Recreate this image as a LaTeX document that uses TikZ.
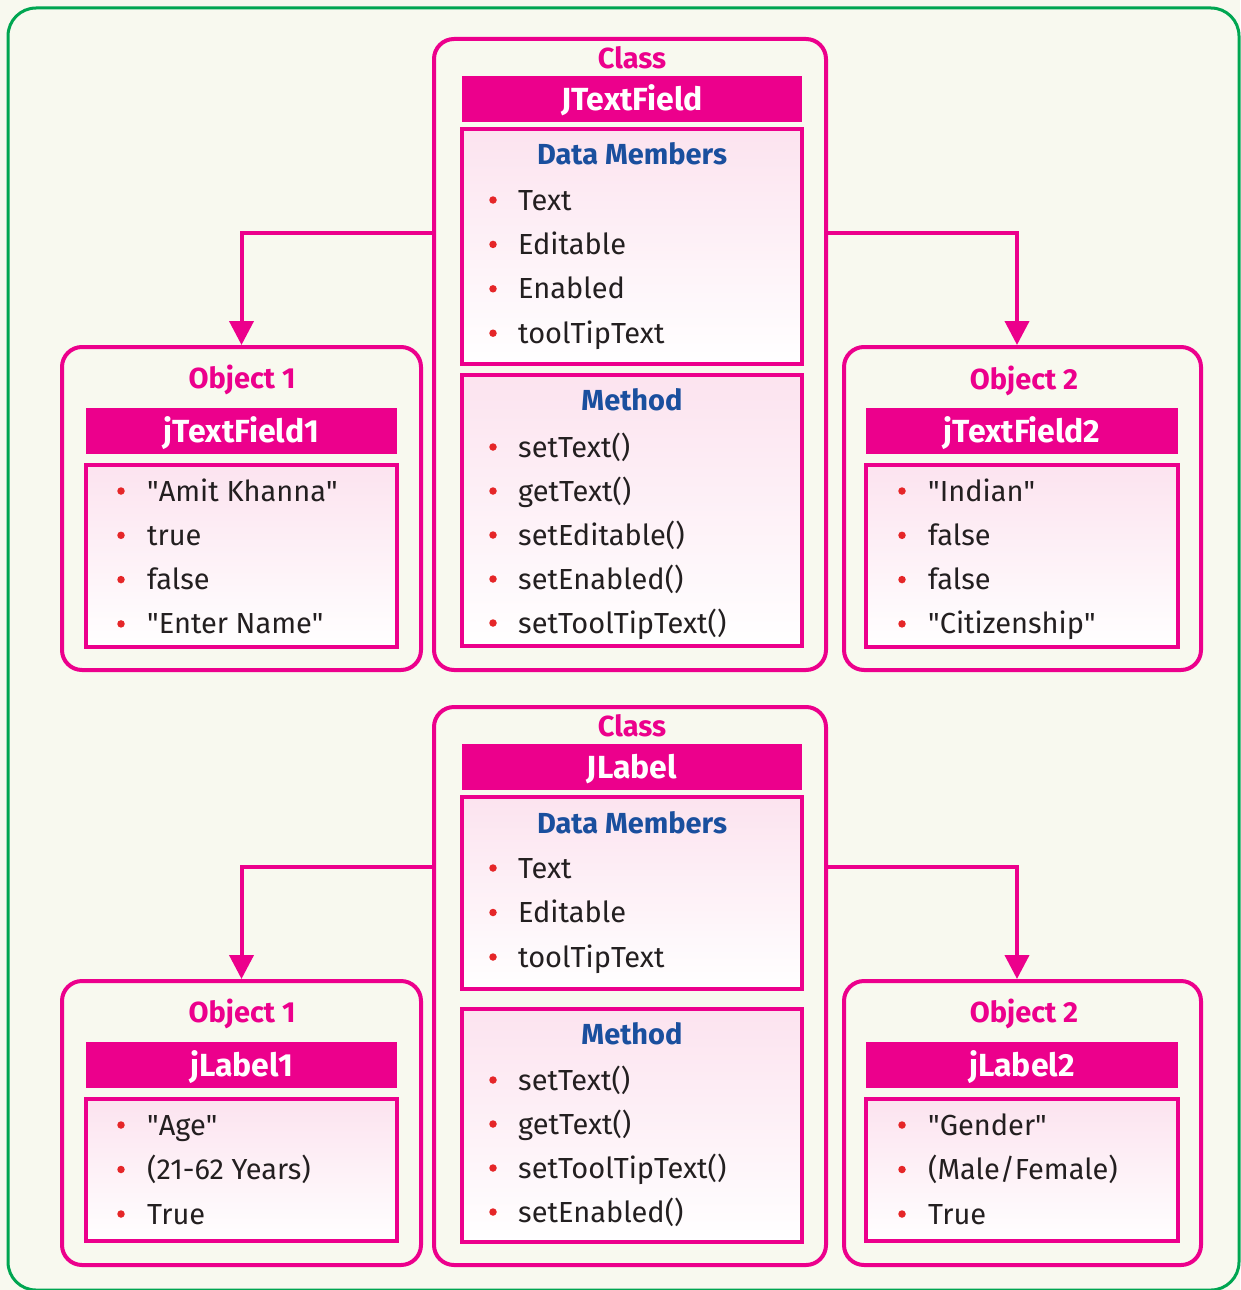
\documentclass[tikz,border=0pt]{standalone}
\usepackage{fontspec}
\setmainfont{Fira Sans}
\usetikzlibrary{arrows.meta, positioning}

\definecolor{mag}{HTML}{EC008C}
\definecolor{navy}{HTML}{1A4F9E}
\definecolor{dotred}{HTML}{E52628}
\definecolor{ink}{HTML}{231F20}
\definecolor{framegreen}{HTML}{00A651}
\definecolor{cream}{HTML}{F8F9EF}
\definecolor{pinktop}{HTML}{FCE3EF}

\newcommand{\qt}[1]{\textquotedbl #1\textquotedbl}

\begin{document}
\begin{tikzpicture}[x=1pt, y=-1pt,
  outerbox/.style={draw=mag, line width=4pt, rounded corners=20pt, inner sep=0pt},
  headbar/.style={fill=mag, text=white, inner sep=0pt, minimum height=46pt,
    text height=22pt, text depth=0pt, font=\fontsize{32}{34}\selectfont\bfseries},
  listbox/.style={draw=mag, line width=3.5pt, top color=pinktop, bottom color=white,
    inner sep=0pt},
  boxtitle/.style={anchor=base, text=mag, inner sep=0pt, font=\fontsize{29}{32}\selectfont\bfseries},
  sectitle/.style={anchor=base, text=navy, inner sep=0pt, font=\fontsize{29}{32}\selectfont\bfseries},
  entry/.style={anchor=base west, text=ink, inner sep=0pt, font=\fontsize{29}{32}\selectfont},
  dot/.style={circle, fill=dotred, inner sep=0pt, minimum size=7.5pt},
  arr/.style={-{Triangle[length=24pt, width=24pt]}, draw=mag, line width=4pt}
]
  \useasboundingbox (0,0) rectangle (1240,1290);
  \fill[cream] (0,0) rectangle (1240,1290);
  \draw[framegreen, line width=3pt, rounded corners=28pt] (8,8) rectangle (1239,1290);

  % ---- class JTextField ----
  \node[outerbox, minimum width=392pt, minimum height=631pt] (cls1) at (630,354.5) {};
  \node[boxtitle] (cls1t) at (632,68.5) {Class};
  \node[headbar, minimum width=340pt] (cls1h) at (632,99) {JTextField};
  \node[listbox, minimum width=340pt, minimum height=235pt] (dm1) at (632,246.5) {};
  \node[sectitle] (dm1t) at (632,164) {Data Members};
  \foreach \t [count=\i] in {Text, Editable, Enabled, toolTipText}{
    \node[dot] (dm1d\i) at (493,200+44.4*\i-44.4) {};
    \node[entry] (dm1e\i) at (518,210+44.4*\i-44.4) {\t};
  }
  \node[listbox, minimum width=340pt, minimum height=271pt] (me1) at (632,510.5) {};
  \node[sectitle] (me1t) at (632,410) {Method};
  \foreach \t [count=\i] in {setText(), getText(), setEditable(), setEnabled(), setToolTipText()}{
    \node[dot] (me1d\i) at (493,447+44*\i-44) {};
    \node[entry] (me1e\i) at (518,457+44*\i-44) {\t};
  }

  % ---- objects of JTextField ----
  \node[outerbox, minimum width=359pt, minimum height=323pt] (ob1) at (241.5,508.5) {};
  \node[boxtitle] (ob1t) at (242,388) {Object 1};
  \node[headbar, minimum width=311pt] (ob1h) at (241.5,431) {jTextField1};
  \node[listbox, minimum width=311pt, minimum height=182pt] (ob1v) at (241.5,556) {};
  \foreach \t [count=\i] in {{\qt{Amit Khanna}}, true, false, {\qt{Enter Name}}}{
    \node[dot] (ob1d\i) at (121,491+44.3*\i-44.3) {};
    \node[entry] (ob1e\i) at (147,501+44.3*\i-44.3) {\t};
  }

  \node[outerbox, minimum width=357pt, minimum height=323pt] (ob2) at (1022.5,508.5) {};
  \node[boxtitle] (ob2t) at (1024,389) {Object 2};
  \node[headbar, minimum width=312pt] (ob2h) at (1022,431) {jTextField2};
  \node[listbox, minimum width=312pt, minimum height=182pt] (ob2v) at (1022,556) {};
  \foreach \t [count=\i] in {{\qt{Indian}}, false, false, {\qt{Citizenship}}}{
    \node[dot] (ob2d\i) at (902,491+44.3*\i-44.3) {};
    \node[entry] (ob2e\i) at (928,501+44.3*\i-44.3) {\t};
  }

  \coordinate (cls1l) at (434,233);
  \coordinate (cls1r) at (826,233);
  \draw[arr] (cls1l) -| (ob1.north);
  \draw[arr] (cls1r) -| ([xshift=-5.5pt]ob2.north);

  % ---- class JLabel ----
  \node[outerbox, minimum width=392pt, minimum height=558pt] (cls2) at (630,986) {};
  \node[boxtitle] (cls2t) at (632,736.5) {Class};
  \node[headbar, minimum width=340pt] (cls2h) at (632,767) {JLabel};
  \node[listbox, minimum width=340pt, minimum height=192pt] (dm2) at (632,893) {};
  \node[sectitle] (dm2t) at (632,833) {Data Members};
  \foreach \t [count=\i] in {Text, Editable, toolTipText}{
    \node[dot] (dm2d\i) at (493,868+44.5*\i-44.5) {};
    \node[entry] (dm2e\i) at (518,878+44.5*\i-44.5) {\t};
  }
  \node[listbox, minimum width=340pt, minimum height=233pt] (me2) at (632,1125.5) {};
  \node[sectitle] (me2t) at (632,1044) {Method};
  \foreach \t [count=\i] in {setText(), getText(), setToolTipText(), setEnabled()}{
    \node[dot] (me2d\i) at (493,1080+44*\i-44) {};
    \node[entry] (me2e\i) at (518,1090+44*\i-44) {\t};
  }

  % ---- objects of JLabel ----
  \node[outerbox, minimum width=359pt, minimum height=284pt] (ob3) at (241.5,1123) {};
  \node[boxtitle] (ob3t) at (242,1022) {Object 1};
  \node[headbar, minimum width=311pt] (ob3h) at (241.5,1065) {jLabel1};
  \node[listbox, minimum width=311pt, minimum height=142pt] (ob3v) at (241.5,1170) {};
  \foreach \t [count=\i] in {{\qt{Age}}, (21-62 Years), True}{
    \node[dot] (ob3d\i) at (121,1125+44.5*\i-44.5) {};
    \node[entry] (ob3e\i) at (147,1135+44.5*\i-44.5) {\t};
  }

  \node[outerbox, minimum width=357pt, minimum height=284pt] (ob4) at (1022.5,1123) {};
  \node[boxtitle] (ob4t) at (1024,1022) {Object 2};
  \node[headbar, minimum width=312pt] (ob4h) at (1022,1065) {jLabel2};
  \node[listbox, minimum width=312pt, minimum height=142pt] (ob4v) at (1022,1170) {};
  \foreach \t [count=\i] in {{\qt{Gender}}, (Male/Female), True}{
    \node[dot] (ob4d\i) at (902,1125+44.5*\i-44.5) {};
    \node[entry] (ob4e\i) at (928,1135+44.5*\i-44.5) {\t};
  }

  \coordinate (cls2l) at (434,867);
  \coordinate (cls2r) at (826,867);
  \draw[arr] (cls2l) -| (ob3.north);
  \draw[arr] (cls2r) -| ([xshift=-5.5pt]ob4.north);
\end{tikzpicture}
\end{document}
